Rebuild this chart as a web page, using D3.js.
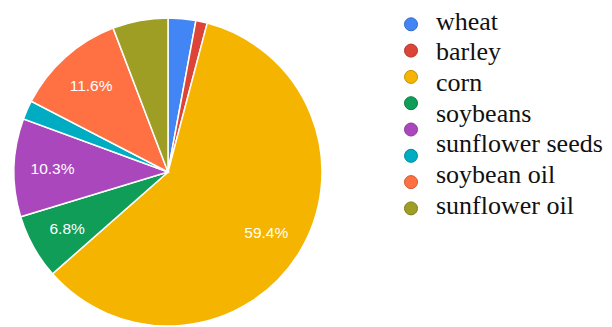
<!DOCTYPE html>
<html>
<head>
<meta charset="utf-8">
<script src="https://cdn.jsdelivr.net/npm/d3@7"></script>
<style>
  html, body { margin: 0; padding: 0; background: #fff; }
  svg { display: block; }
  .legend-text { font-family: "Liberation Serif", "Times New Roman", "DejaVu Serif", serif; font-size: 26px; }
  .slice-label { font-family: "Liberation Sans", Arial, sans-serif; font-size: 15.5px; }
</style>
</head>
<body>
<svg id="chart" width="612" height="327"></svg>
<script>
// slice order, clockwise from 12 o'clock
const sliceNames = ["wheat", "barley", "corn", "soybeans", "sunflower seeds", "rapeseed", "soybean oil", "sunflower oil"]
const shares = [2.9, 1.2, 59.4, 6.8, 10.3, 2.0, 11.6, 5.8]
const colors = ["#4285f4", "#db4437", "#f4b400", "#0f9d58", "#ab47bc", "#00acc1", "#ff7043", "#9e9d24"]
// legend text as printed (one fewer line than markers)
const legendLabels = ["wheat", "barley", "corn", "soybeans", "sunflower seeds", "soybean oil", "sunflower oil"]

const svg = d3.select("#chart")
const cx = 168, cy = 172, radius = 154

const data = sliceNames.map((name, i) => ({name, value: shares[i], color: colors[i]}))
const total = d3.sum(shares)

const pie = d3.pie().sort(null).value(d => d.value)
const arc = d3.arc().innerRadius(0).outerRadius(radius)
const labelArc = d3.arc().innerRadius(radius * 0.75).outerRadius(radius * 0.75)

const g = svg.append("g")
  .attr("transform", `translate(${cx}, ${cy})`)

const arcs = pie(data)

g.selectAll("path")
  .data(arcs)
  .enter()
  .append("path")
  .attr("d", arc)
  .attr("fill", d => d.data.color)
  .attr("stroke", "#fff")
  .attr("stroke-width", 1.5)

g.selectAll("text")
  .data(arcs.filter(d => d.data.value / total >= 0.06))
  .enter()
  .append("text")
  .attr("class", "slice-label")
  .attr("transform", d => `translate(${labelArc.centroid(d)})`)
  .attr("text-anchor", "middle")
  .attr("dy", "0.36em")
  .attr("fill", "#fff")
  .text(d => d.data.value.toFixed(1) + "%")

// legend
const markerY = d3.scaleLinear().domain([0, 7]).range([24.3, 208.4])
const textY = d3.scaleLinear().domain([0, 6]).range([29.5, 213.7])

const legend = svg.append("g")

legend.selectAll("circle")
  .data(data)
  .enter()
  .append("circle")
  .attr("cx", 411)
  .attr("cy", (d, i) => markerY(i))
  .attr("r", 6.5)
  .attr("fill", d => d.color)
  .attr("stroke", d => d3.color(d.color).darker(0.6))
  .attr("stroke-width", 1)

legend.selectAll("text")
  .data(legendLabels)
  .enter()
  .append("text")
  .attr("class", "legend-text")
  .attr("x", 436)
  .attr("y", (d, i) => textY(i))
  .attr("fill", "#111")
  .text(d => d)
</script>
</body>
</html>
